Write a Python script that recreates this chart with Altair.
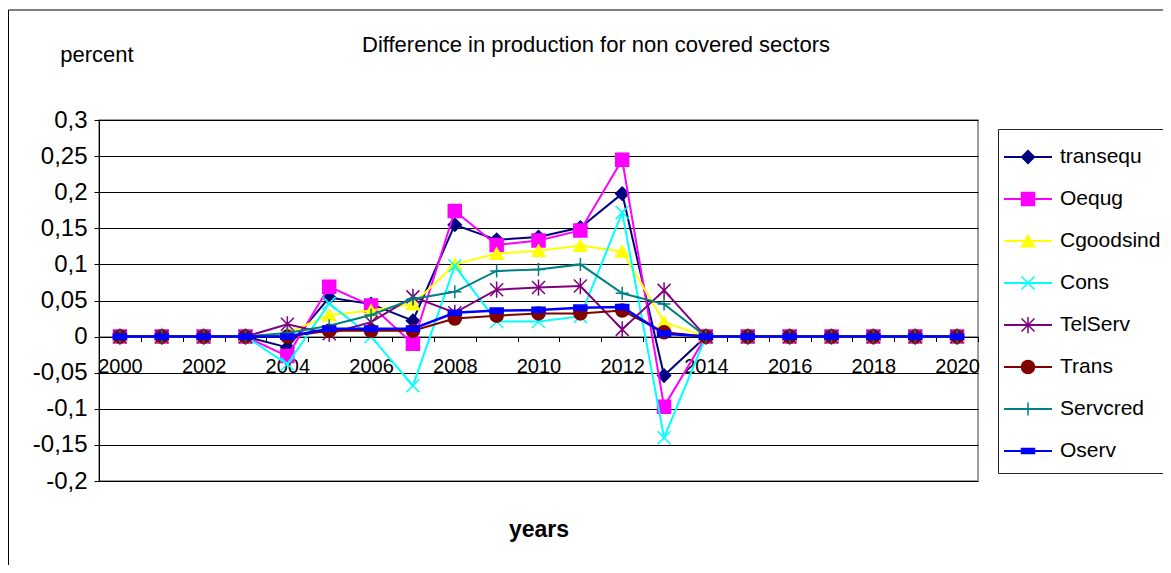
import altair as alt
import pandas as pd

FONT = "Liberation Sans"

YEARS = list(range(2000, 2021))
SERIES = ["transequ", "Oequg", "Cgoodsind", "Cons", "TelServ", "Trans", "Servcred", "Oserv"]

transequ = [0, 0, 0, 0, -0.015, 0.054, 0.045, 0.022, 0.155, 0.134, 0.138, 0.151, 0.198, -0.054, 0, 0, 0, 0, 0, 0, 0]
Oequg = [0, 0, 0, 0, -0.027, 0.069, 0.043, -0.010, 0.174, 0.127, 0.133, 0.147, 0.245, -0.097, 0, 0, 0, 0, 0, 0, 0]
Cgoodsind = [0, 0, 0, 0, 0.005, 0.030, 0.036, 0.045, 0.100, 0.115, 0.119, 0.126, 0.118, 0.020, 0, 0, 0, 0, 0, 0, 0]
Cons = [0, 0, 0, 0, -0.038, 0.046, 0.000, -0.068, 0.098, 0.021, 0.021, 0.028, 0.172, -0.140, 0, 0, 0, 0, 0, 0, 0]
TelServ = [0, 0, 0, 0, 0.017, 0.004, 0.020, 0.055, 0.033, 0.065, 0.068, 0.070, 0.010, 0.064, 0, 0, 0, 0, 0, 0, 0]
Trans = [0, 0, 0, 0, 0.000, 0.008, 0.008, 0.008, 0.025, 0.029, 0.032, 0.032, 0.036, 0.006, 0, 0, 0, 0, 0, 0, 0]
Servcred = [0, 0, 0, 0, 0.005, 0.015, 0.030, 0.052, 0.062, 0.091, 0.093, 0.100, 0.060, 0.045, 0, 0, 0, 0, 0, 0, 0]
Oserv = [0, 0, 0, 0, 0.000, 0.011, 0.011, 0.011, 0.033, 0.036, 0.037, 0.040, 0.041, 0.004, 0, 0, 0, 0, 0, 0, 0]
VALUES = [transequ, Oequg, Cgoodsind, Cons, TelServ, Trans, Servcred, Oserv]

Y_TICKS = [-0.2, -0.15, -0.1, -0.05, 0, 0.05, 0.1, 0.15, 0.2, 0.25, 0.3]

TITLE = "Difference in production for non covered sectors"
Y_TITLE = "percent"
X_TITLE = "years"

COLORS = ["#000080", "#FF00FF", "#FFFF00", "#00FFFF", "#800080", "#800000", "#008080", "#0000FF"]
SHAPES = ["diamond", "square", "triangle-up",
          "M-1,-1L1,1M-1,1L1,-1",
          "M-1,-1L1,1M-1,1L1,-1M0,-1.25L0,1.25",
          "circle",
          "M-1,0L1,0M0,-1L0,1",
          "M-1,-0.4L1,-0.4L1,0.4L-1,0.4Z"]
SIZES = [169, 169, 196, 169, 196, 160, 225, 72]

rows = []
for s, vals in zip(SERIES, VALUES):
    for yr, v in zip(YEARS, vals):
        rows.append({"series": s, "year": yr, "value": v})
df = pd.DataFrame(rows)

W, H = 879, 361
y_zero = H * 0.3 / 0.5

fill_enc = alt.Fill("series:N", scale=alt.Scale(domain=SERIES, range=COLORS), legend=None)
stroke_enc = alt.Stroke("series:N", scale=alt.Scale(domain=SERIES, range=COLORS), legend=None)
shape_enc = alt.Shape("series:N", scale=alt.Scale(domain=SERIES, range=SHAPES), legend=None)
size_enc = alt.Size("series:N", scale=alt.Scale(domain=SERIES, range=SIZES), legend=None)

x_enc = alt.X("year:O", title=None,
              scale=alt.Scale(type="band", paddingInner=0, paddingOuter=0),
              axis=alt.Axis(offset=-(H - y_zero), labelAngle=0, labelFont=FONT, labelFontSize=20,
                            labelColor="black", labelPadding=15, labelExpr="datum.value % 2 == 0 ? datum.label : ''",
                            tickBand="extent", tickSize=5, tickColor="black", domainColor="black",
                            domainWidth=1, grid=False))
y_enc = alt.Y("value:Q", title=None,
              scale=alt.Scale(domain=[-0.2, 0.3], nice=False, zero=False),
              axis=alt.Axis(values=Y_TICKS, grid=True, gridColor="black", gridWidth=1,
                            domainColor="black", tickColor="black", tickSize=5,
                            labelFont=FONT, labelFontSize=24, labelColor="black", labelPadding=7,
                            labelExpr="(datum.value < 0 ? '-' : '') + replace(format(abs(datum.value), '.2~f'), '.', ',')"))

main_layers = []
for s in SERIES:
    b = alt.Chart(df).transform_filter(alt.datum.series == s)
    main_layers.append(b.mark_line(strokeWidth=2.5 if s == "Oserv" else 2).encode(x=x_enc, y=y_enc, stroke=stroke_enc))
    main_layers.append(b.mark_point(filled=True, opacity=1, strokeWidth=1.5).encode(
        x=x_enc, y=y_enc, fill=fill_enc, stroke=stroke_enc, shape=shape_enc, size=size_enc))
main = alt.layer(*main_layers)

one = pd.DataFrame({"k": [0]})
ldf = pd.DataFrame({"series": SERIES})
ly = alt.Y("series:N", sort=SERIES, axis=None,
           scale=alt.Scale(type="point", domain=SERIES, range=[37, 331], padding=0))

legend_box = alt.Chart(one).mark_rect(fill="white", stroke="#222222", strokeWidth=1).encode(
    x=alt.value(899.5), x2=alt.value(1100), y=alt.value(9.5), y2=alt.value(353.5))
legend_rule = alt.Chart(ldf).mark_rule(strokeWidth=2).encode(
    y=ly, x=alt.value(905), x2=alt.value(953), stroke=stroke_enc)
legend_pts = alt.Chart(ldf).mark_point(filled=True, opacity=1, strokeWidth=1.5).encode(
    y=ly, x=alt.value(929), fill=fill_enc, stroke=stroke_enc, shape=shape_enc, size=size_enc)
legend_txt = alt.Chart(ldf).mark_text(align="left", baseline="middle", font=FONT, fontSize=21, color="black").encode(
    y=ly, x=alt.value(961), text="series:N")
legend = alt.layer(legend_rule, legend_pts, legend_txt)

frame = alt.Chart(one).mark_rect(fill="white", fillOpacity=0, stroke="black", strokeWidth=1).encode(
    x=alt.value(-90.5), x2=alt.value(1101), y=alt.value(-110), y2=alt.value(480))

tdf = pd.DataFrame({"t": [TITLE]})
title_txt = alt.Chart(tdf).mark_text(align="center", baseline="middle", font=FONT, fontSize=22, color="black").encode(
    x=alt.value(497), y=alt.value(-75), text="t:N")
pdf = pd.DataFrame({"t": [Y_TITLE]})
pct_txt = alt.Chart(pdf).mark_text(align="center", baseline="middle", font=FONT, fontSize=22, color="black").encode(
    x=alt.value(-2), y=alt.value(-65), text="t:N")
xdf = pd.DataFrame({"t": [X_TITLE]})
yrs_txt = alt.Chart(xdf).mark_text(align="center", baseline="middle", font=FONT, fontSize=23, fontWeight="bold", color="black").encode(
    x=alt.value(440), y=alt.value(410), text="t:N")

chart = alt.layer(frame, legend_box, main, legend, title_txt, pct_txt, yrs_txt).resolve_scale(
    y="independent"
).properties(
    width=W, height=H,
    padding={"left": 91, "top": 112, "right": 185, "bottom": 84},
    autosize=alt.AutoSizeParams(type="none"),
    background="white",
).configure_view(stroke="#808080", strokeWidth=1.5)

chart.save("out.html", embed_options={"renderer": "svg", "actions": False})
